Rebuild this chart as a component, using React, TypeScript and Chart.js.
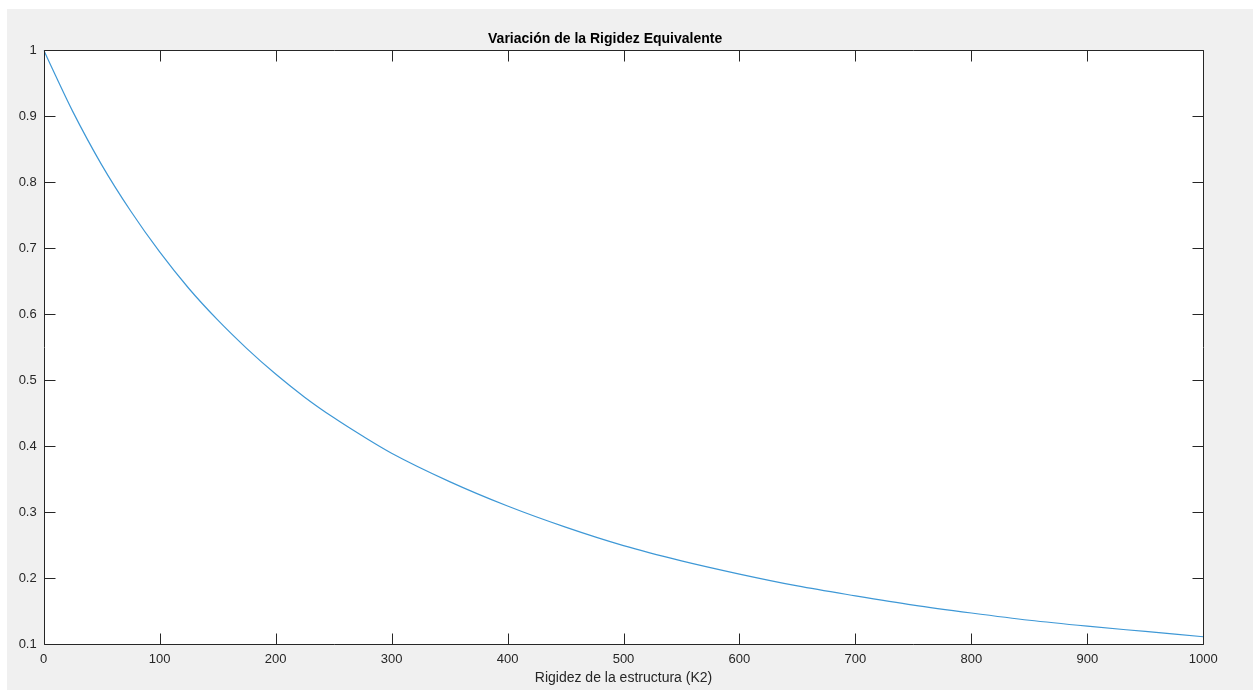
import React, { useEffect, useRef } from "react";
import { Chart, registerables } from "chart.js";

Chart.register(...registerables);

const chartTitle = "Variación de la Rigidez Equivalente";
const xAxisLabel = "Rigidez de la estructura (K2)";

const k2Values = [0, 10, 25, 50, 75, 100, 125, 150, 175, 200, 225, 250, 275, 300, 350, 400, 450, 500, 550, 600, 650, 700, 750, 800, 850, 900, 950, 1000];
const rigidezEquivalente = [1.0, 0.962, 0.907, 0.826, 0.756, 0.694, 0.639, 0.591, 0.548, 0.509, 0.474, 0.443, 0.415, 0.389, 0.346, 0.309, 0.277, 0.249, 0.226, 0.206, 0.188, 0.173, 0.159, 0.147, 0.136, 0.127, 0.119, 0.111];

const xTicks = [0, 100, 200, 300, 400, 500, 600, 700, 800, 900, 1000];
const yTicks = [0.1, 0.2, 0.3, 0.4, 0.5, 0.6, 0.7, 0.8, 0.9, 1];

const AXIS_COLOR = "#262626";
const FONT = "'Liberation Sans', Arial, Helvetica, sans-serif";

const boxTicksPlugin = {
  id: "boxTicks",
  afterDraw(chart: any) {
    const { ctx, chartArea } = chart;
    const { left, right, top, bottom } = chartArea;
    const xs = chart.scales.x;
    const ys = chart.scales.y;
    const len = 11;
    ctx.save();
    ctx.strokeStyle = AXIS_COLOR;
    ctx.lineWidth = 1;
    const L = Math.round(left) + 0.5;
    const R = Math.round(right) + 0.5;
    const T = Math.round(top) + 0.5;
    const B = Math.round(bottom) + 0.5;
    ctx.beginPath();
    ctx.rect(L, T, R - L, B - T);
    ctx.stroke();
    ctx.beginPath();
    xTicks.forEach((v) => {
      const px = Math.round(xs.getPixelForValue(v)) + 0.5;
      ctx.moveTo(px, B);
      ctx.lineTo(px, B - len);
      ctx.moveTo(px, T);
      ctx.lineTo(px, T + len);
    });
    yTicks.forEach((v) => {
      const py = Math.round(ys.getPixelForValue(v)) + 0.5;
      ctx.moveTo(L, py);
      ctx.lineTo(L + len, py);
      ctx.moveTo(R, py);
      ctx.lineTo(R - len, py);
    });
    ctx.stroke();
    ctx.restore();
  },
};

export default function App() {
  const canvasRef = useRef<HTMLCanvasElement | null>(null);

  useEffect(() => {
    if (!canvasRef.current) return;
    const points = k2Values.map((k, i) => ({ x: k, y: rigidezEquivalente[i] }));
    const chart = new Chart(canvasRef.current, {
      type: "line",
      data: {
        datasets: [
          {
            data: points,
            borderColor: "rgb(62,152,214)",
            borderWidth: 1.2,
            pointRadius: 0,
            fill: false,
            cubicInterpolationMode: "monotone",
          },
        ],
      },
      options: {
        animation: false,
        responsive: false,
        maintainAspectRatio: false,
        layout: { padding: { left: 0, right: 49.7, top: 0, bottom: 0 } },
        plugins: {
          legend: { display: false },
          tooltip: { enabled: false },
          title: {
            display: true,
            text: chartTitle,
            color: "#000",
            font: { family: FONT, size: 14, weight: "bold", lineHeight: 1.2 },
            padding: { top: 22.2, bottom: 2.0 },
          },
        },
        scales: {
          x: {
            type: "linear",
            min: 0,
            max: 1000,
            afterBuildTicks: (scale: any) => {
              scale.ticks = xTicks.map((v) => ({ value: v }));
            },
            afterFit: (scale: any) => {
              scale.height = 46;
            },
            grid: { display: false, drawTicks: false },
            border: { display: false },
            ticks: {
              color: AXIS_COLOR,
              padding: 8,
              maxRotation: 0,
              autoSkip: false,
              font: { family: FONT, size: 13 },
              callback: (v: any) => String(v),
            },
            title: {
              display: true,
              text: xAxisLabel,
              color: AXIS_COLOR,
              font: { family: FONT, size: 14, lineHeight: 1.2 },
              padding: { top: 0, bottom: 3.6 },
            },
          },
          y: {
            type: "linear",
            min: 0.1,
            max: 1,
            afterBuildTicks: (scale: any) => {
              scale.ticks = yTicks.map((v) => ({ value: v }));
            },
            afterFit: (scale: any) => {
              scale.width = 36.7;
            },
            grid: { display: false, drawTicks: false },
            border: { display: false },
            ticks: {
              color: AXIS_COLOR,
              padding: 7,
              autoSkip: false,
              font: { family: FONT, size: 13 },
              callback: (v: any) => String(Math.round(Number(v) * 10) / 10),
            },
          },
        },
      },
      plugins: [boxTicksPlugin],
    } as any);
    return () => chart.destroy();
  }, []);

  return (
    <div style={{ position: "fixed", left: 0, top: 0, width: 1253, height: 690, background: "#ffffff" }}>
      <div style={{ position: "absolute", left: 7, top: 9, width: 1246, height: 681, background: "#f0f0f0" }}>
        <div style={{ position: "absolute", left: 36.7, top: 41, width: 1159.6, height: 594, background: "#ffffff" }} />
        <canvas ref={canvasRef} width={1246} height={681} style={{ position: "absolute", left: 0, top: 0, width: 1246, height: 681 }} />
      </div>
    </div>
  );
}
